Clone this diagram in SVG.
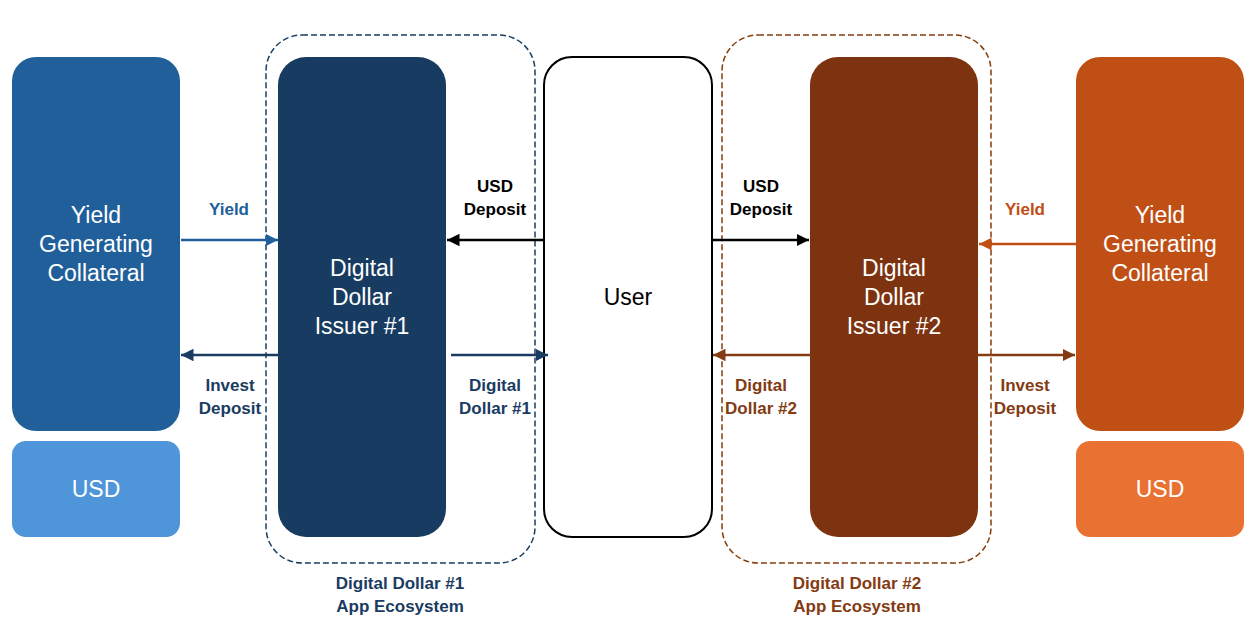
<svg xmlns="http://www.w3.org/2000/svg" width="1254" height="636" viewBox="0 0 1254 636">
<style>
.nt{font-family:"Liberation Sans",Arial,sans-serif;font-size:23px;fill:#fff;text-anchor:middle;dominant-baseline:central}
.lb{font-family:"Liberation Sans",Arial,sans-serif;font-size:17px;font-weight:bold;text-anchor:middle;dominant-baseline:central}
.c{stroke-width:2.5;fill:none}
</style>
<defs>
<marker id="aBlue" viewBox="0 0 10 10" refX="10" refY="5" markerWidth="5" markerHeight="5" orient="auto-start-reverse" markerUnits="strokeWidth"><path d="M0,0 L10,5 L0,10 z" fill="#215F9A"/></marker>
<marker id="aNavy" viewBox="0 0 10 10" refX="10" refY="5" markerWidth="5" markerHeight="5" orient="auto-start-reverse" markerUnits="strokeWidth"><path d="M0,0 L10,5 L0,10 z" fill="#1A3B62"/></marker>
<marker id="aBlack" viewBox="0 0 10 10" refX="10" refY="5" markerWidth="5" markerHeight="5" orient="auto-start-reverse" markerUnits="strokeWidth"><path d="M0,0 L10,5 L0,10 z" fill="#000"/></marker>
<marker id="aBrown" viewBox="0 0 10 10" refX="10" refY="5" markerWidth="5" markerHeight="5" orient="auto-start-reverse" markerUnits="strokeWidth"><path d="M0,0 L10,5 L0,10 z" fill="#843A12"/></marker>
<marker id="aOrange" viewBox="0 0 10 10" refX="10" refY="5" markerWidth="5" markerHeight="5" orient="auto-start-reverse" markerUnits="strokeWidth"><path d="M0,0 L10,5 L0,10 z" fill="#C04F15"/></marker>
</defs>
<rect width="1254" height="636" fill="#fff"/>

<g id="eco1">
<rect x="266" y="35" width="269" height="528" rx="36" fill="none" stroke="#1A3E63" stroke-width="1.5" stroke-dasharray="6,3"/>
<text class="lb" fill="#1A3B62" x="400" y="583">Digital Dollar #1</text>
<text class="lb" fill="#1A3B62" x="400" y="606">App Ecosystem</text>
</g>
<g id="eco2">
<rect x="722" y="35" width="269" height="528" rx="36" fill="none" stroke="#843C0C" stroke-width="1.5" stroke-dasharray="6,3"/>
<text class="lb" fill="#843A12" x="857" y="583">Digital Dollar #2</text>
<text class="lb" fill="#843A12" x="857" y="606">App Ecosystem</text>
</g>

<g id="collat1">
<rect x="12" y="57" width="168" height="374" rx="24" fill="#215F9A"/>
<text class="nt" x="96" y="215">Yield</text>
<text class="nt" x="96" y="244">Generating</text>
<text class="nt" x="96" y="273">Collateral</text>
</g>
<g id="usd1">
<rect x="12" y="441" width="168" height="96" rx="14" fill="#4E95D9"/>
<text class="nt" x="96" y="489">USD</text>
</g>
<g id="issuer1">
<rect x="278" y="57" width="168" height="480" rx="28" fill="#183B61"/>
<text class="nt" x="362" y="268">Digital</text>
<text class="nt" x="362" y="297">Dollar</text>
<text class="nt" x="362" y="326">Issuer #1</text>
</g>
<g id="user">
<rect x="544" y="57" width="168" height="480" rx="28" fill="#fff" stroke="#000" stroke-width="2"/>
<text class="nt" x="628" y="297" style="fill:#000">User</text>
</g>
<g id="issuer2">
<rect x="810" y="57" width="168" height="480" rx="28" fill="#7E3310"/>
<text class="nt" x="894" y="268">Digital</text>
<text class="nt" x="894" y="297">Dollar</text>
<text class="nt" x="894" y="326">Issuer #2</text>
</g>
<g id="collat2">
<rect x="1076" y="57" width="168" height="374" rx="24" fill="#C04F15"/>
<text class="nt" x="1160" y="215">Yield</text>
<text class="nt" x="1160" y="244">Generating</text>
<text class="nt" x="1160" y="273">Collateral</text>
</g>
<g id="usd2">
<rect x="1076" y="441" width="168" height="96" rx="14" fill="#E97132"/>
<text class="nt" x="1160" y="489">USD</text>
</g>

<g id="connectors">
<line class="c" x1="181" y1="240" x2="278" y2="240" stroke="#215F9A" marker-end="url(#aBlue)"/>
<text class="lb" fill="#215F9A" x="229" y="209">Yield</text>
<line class="c" x1="278" y1="355" x2="181" y2="355" stroke="#1A3B62" marker-end="url(#aNavy)"/>
<text class="lb" fill="#1A3B62" x="230" y="385">Invest</text>
<text class="lb" fill="#1A3B62" x="230" y="408">Deposit</text>
<line class="c" x1="544" y1="240" x2="447" y2="240" stroke="#000" marker-end="url(#aBlack)"/>
<text class="lb" fill="#000" x="495" y="186">USD</text>
<text class="lb" fill="#000" x="495" y="209">Deposit</text>
<line class="c" x1="451" y1="355" x2="548" y2="355" stroke="#1A3B62" marker-end="url(#aNavy)"/>
<text class="lb" fill="#1A3B62" x="495" y="385">Digital</text>
<text class="lb" fill="#1A3B62" x="495" y="408">Dollar #1</text>
<line class="c" x1="712" y1="240" x2="809" y2="240" stroke="#000" marker-end="url(#aBlack)"/>
<text class="lb" fill="#000" x="761" y="186">USD</text>
<text class="lb" fill="#000" x="761" y="209">Deposit</text>
<line class="c" x1="810" y1="355" x2="713" y2="355" stroke="#843A12" marker-end="url(#aBrown)"/>
<text class="lb" fill="#843A12" x="761" y="385">Digital</text>
<text class="lb" fill="#843A12" x="761" y="408">Dollar #2</text>
<line class="c" x1="1076" y1="244" x2="979" y2="244" stroke="#C04F15" marker-end="url(#aOrange)"/>
<text class="lb" fill="#C04F15" x="1025" y="209">Yield</text>
<line class="c" x1="978" y1="355" x2="1075" y2="355" stroke="#843A12" marker-end="url(#aBrown)"/>
<text class="lb" fill="#843A12" x="1025" y="385">Invest</text>
<text class="lb" fill="#843A12" x="1025" y="408">Deposit</text>
</g>
</svg>
